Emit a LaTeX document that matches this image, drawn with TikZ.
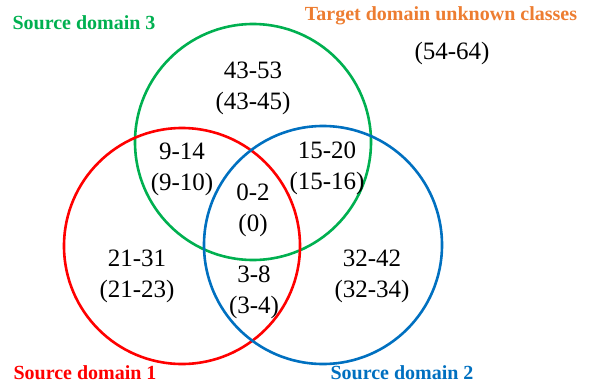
\documentclass[tikz,border=0pt]{standalone}
\usepackage{fontspec}
\setmainfont{Liberation Serif}
\definecolor{setred}{RGB}{255,0,0}
\definecolor{setgreen}{RGB}{0,176,80}
\definecolor{setblue}{RGB}{0,112,192}
\definecolor{setorange}{RGB}{237,125,49}

\begin{document}
\begin{tikzpicture}[x=1pt, y=-1pt, line cap=round, line join=round,
	num/.style={align=center, inner sep=0pt, font=\fontsize{25}{31}\selectfont},
	lbl/.style={inner sep=0pt, font=\fontsize{20}{24}\selectfont\bfseries}]
	\useasboundingbox (0,0) rectangle (589,383);
	% the three source domains
	\draw[setgreen, line width=2.6pt] (253,142) circle (118pt);
	\draw[setred, line width=2.6pt] (182,246) circle (118pt);
	\draw[setblue, line width=2.6pt] (323,245) circle (119pt);
	% class ranges
	\node[num] (only3) at (253,88) {43-53\\(43-45)};
	\node[num] (red3) at (182,169) {9-14\\(9-10)};
	\node[num] (blue3) at (327,168) {15-20\\(15-16)};
	\node[num] (shared) at (253,210) {0-2\\(0)};
	\node[num] (only1) at (137,276) {21-31\\(21-23)};
	\node[num] (red2) at (254,292) {3-8\\(3-4)};
	\node[num] (only2) at (372,276) {32-42\\(32-34)};
	\node[num] (unk) at (452,53) {(54-64)};
	% domain names
	\node[lbl, setgreen] (name3) at (84,23) {Source domain 3};
	\node[lbl, setorange] (nametgt) at (441,16) {Target domain unknown classes};
	\node[lbl, setred] (name1) at (85,373) {Source domain 1};
	\node[lbl, setblue] (name2) at (402,373) {Source domain 2};
\end{tikzpicture}
\end{document}
